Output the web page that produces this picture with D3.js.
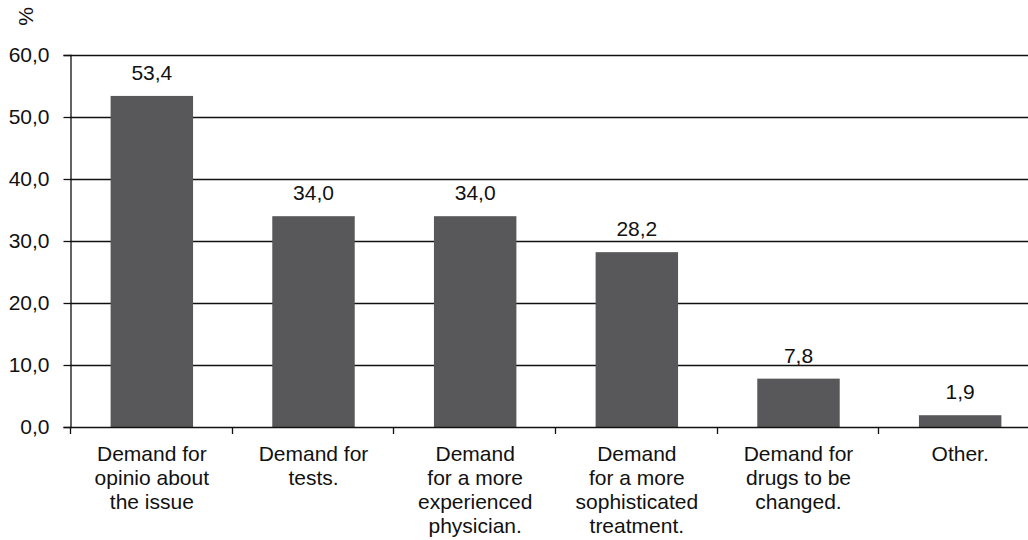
<!DOCTYPE html>
<html>
<head>
<meta charset="utf-8">
<script src="https://cdn.jsdelivr.net/npm/d3@7"></script>
<style>
  html, body { margin: 0; padding: 0; background: #fff; }
  svg { display: block; font-family: "Liberation Sans", Arial, sans-serif; }
</style>
</head>
<body>
<svg id="chart" width="1028" height="540"></svg>
<script>
const categories = [
  ["Demand for", "opinio about", "the issue"],
  ["Demand for", "tests."],
  ["Demand", "for a more", "experienced", "physician."],
  ["Demand", "for a more", "sophisticated", "treatment."],
  ["Demand for", "drugs to be", "changed."],
  ["Other."]
];
const values = [53.4, 34.0, 34.0, 28.2, 7.8, 1.9];
const yTicks = [0, 10, 20, 30, 40, 50, 60];
const yLabel = "%";

(function () {
const locale = d3.formatLocale({ decimal: ",", thousands: ".", grouping: [3], currency: ["", ""] });
const fmt = locale.format(".1f");

const svg = d3.select("#chart");
const W = 1028;
const mLeft = 70, mRight = 1040, mTop = 55, mBottom = 427;
const fontSize = 21;

const x = d3.scaleBand()
  .domain(d3.range(categories.length))
  .range([mLeft + 1, mRight + 1])
  .paddingInner(0.49)
  .paddingOuter(0.245);
const y = d3.scaleLinear().domain([0, 60]).range([mBottom, mTop]);

// gridlines
svg.append("g").selectAll("line").data(yTicks.filter(d => d > 0)).join("line")
  .attr("x1", mLeft).attr("x2", W)
  .attr("y1", d => Math.round(y(d)) + 0.5).attr("y2", d => Math.round(y(d)) + 0.5)
  .attr("stroke", "#111").attr("stroke-width", 1.3);

// bars
svg.append("g").selectAll("rect").data(values).join("rect")
  .attr("x", (d, i) => x(i))
  .attr("width", x.bandwidth())
  .attr("y", d => y(d))
  .attr("height", d => y(0) - y(d))
  .attr("fill", "#58585a");

// value labels
svg.append("g").selectAll("text").data(values).join("text")
  .attr("x", (d, i) => x(i) + x.bandwidth() / 2)
  .attr("y", d => y(d) - 16)
  .attr("text-anchor", "middle")
  .attr("font-size", fontSize)
  .attr("fill", "#111")
  .text(d => fmt(d));

// y axis
const yAxis = d3.axisLeft(y).tickValues(yTicks).tickSize(7).tickPadding(14).tickFormat(d => fmt(d));
const gy = svg.append("g").attr("transform", `translate(${mLeft + 0.5},0)`).call(yAxis);
gy.select(".domain").attr("stroke", "#111").attr("stroke-width", 1.3);
gy.selectAll(".tick line").attr("stroke", "#111").attr("stroke-width", 1.3);
gy.selectAll(".tick text").attr("font-size", fontSize).attr("fill", "#111")
  .attr("font-family", "Liberation Sans, Arial, sans-serif");

// x axis baseline and ticks between categories
const step = x.step();
const xBoundaries = d3.range(categories.length + 1).map(i => mLeft + i * step);
svg.append("line")
  .attr("x1", mLeft).attr("x2", W)
  .attr("y1", mBottom + 0.5).attr("y2", mBottom + 0.5)
  .attr("stroke", "#111").attr("stroke-width", 1.4);
svg.append("g").selectAll("line").data(xBoundaries).join("line")
  .attr("x1", d => Math.round(d) + 0.5).attr("x2", d => Math.round(d) + 0.5)
  .attr("y1", mBottom).attr("y2", mBottom + 7)
  .attr("stroke", "#111").attr("stroke-width", 1.3);

// category labels
const catG = svg.append("g");
categories.forEach((lines, i) => {
  const cx = x(i) + x.bandwidth() / 2;
  const t = catG.append("text")
    .attr("x", cx)
    .attr("y", 461)
    .attr("text-anchor", "middle")
    .attr("font-size", fontSize)
    .attr("fill", "#111");
  lines.forEach((ln, j) => {
    t.append("tspan").attr("x", cx).attr("dy", j === 0 ? 0 : 24).text(ln);
  });
});

// y axis unit label
svg.append("text")
  .attr("transform", "translate(33,16.5) rotate(-90)")
  .attr("text-anchor", "middle")
  .attr("font-size", fontSize)
  .attr("fill", "#111")
  .text(yLabel);
})();
</script>
</body>
</html>
